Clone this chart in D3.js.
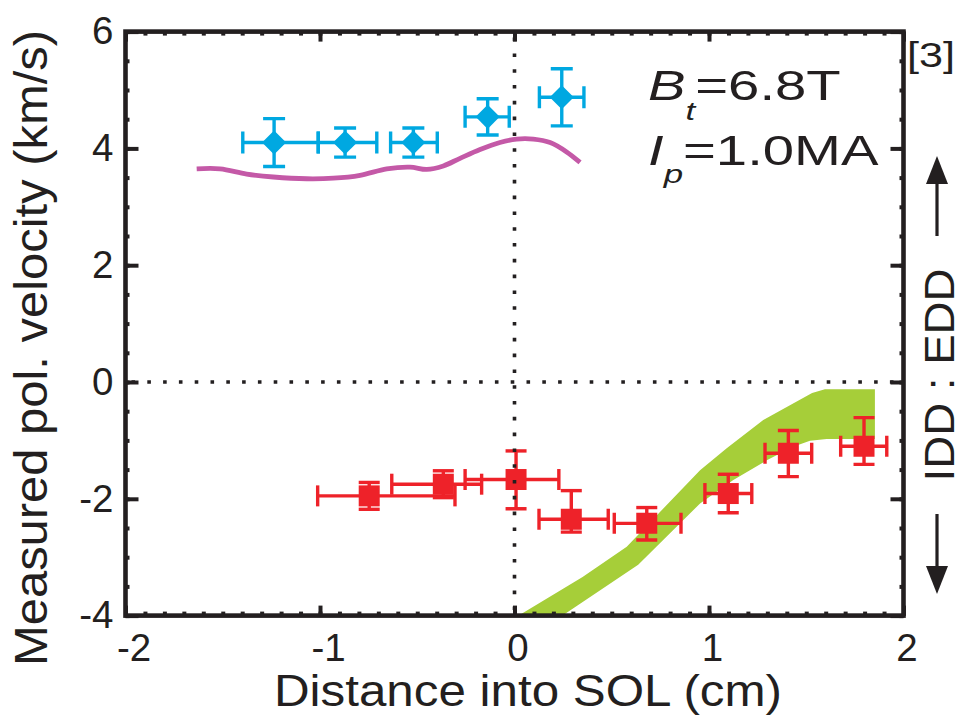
<!DOCTYPE html>
<html>
<head>
<meta charset="utf-8">
<script src="https://cdn.jsdelivr.net/npm/d3@7/dist/d3.min.js"></script>
<style>
  html, body { margin: 0; padding: 0; background: #ffffff; }
  svg { display: block; }
  text { font-family: "Liberation Sans", Arial, Helvetica, sans-serif; fill: #231f20; }
</style>
</head>
<body>
<svg id="chart" width="962" height="715"></svg>
<script>
// ---- axis settings ----
const xDomain = [-2, 2];
const yDomain = [-4, 6];
const xTickValues = [-2, -1, 0, 1, 2];
const yTickValues = [-4, -2, 0, 2, 4, 6];

// ---- ion-drift-side points (blue diamonds) ----
const iddX    = [-1.236, -0.871, -0.520, -0.138, 0.243];
const iddY    = [4.10, 4.10, 4.10, 4.54, 4.875];
const iddXLo  = [0.161, 0.138, 0.117, 0.116, 0.115];
const iddXHi  = [0.227, 0.163, 0.123, 0.111, 0.114];
const iddYErr = [0.41, 0.25, 0.25, 0.31, 0.49];

// ---- electron-drift-side points (red squares) ----
const eddX   = [-0.747, -0.366, 0.008, 0.292, 0.680, 1.099, 1.408, 1.797];
const eddY   = [-1.95, -1.75, -1.67, -2.35, -2.42, -1.91, -1.22, -1.10];
const eddXLo = [0.265, 0.265, 0.262, 0.166, 0.167, 0.120, 0.120, 0.120];
const eddXHi = [0.441, 0.197, 0.220, 0.190, 0.176, 0.121, 0.120, 0.117];
const eddYLo = [0.23, 0.23, 0.50, 0.22, 0.285, 0.33, 0.40, 0.31];
const eddYHi = [0.23, 0.23, 0.49, 0.49, 0.27, 0.33, 0.39, 0.49];

// ---- model curve (magenta) ----
const curveX = [-1.634, -1.514, -1.377, -1.240, -1.068, -0.931, -0.794, -0.657, -0.537, -0.451,
                -0.366, -0.280, -0.177, -0.075, 0.011, 0.097, 0.183, 0.268, 0.337];
const curveY = [3.65, 3.65, 3.56, 3.51, 3.48, 3.49, 3.54, 3.65, 3.68, 3.64,
                3.70, 3.83, 3.98, 4.10, 4.16, 4.16, 4.10, 3.94, 3.76];

// ---- simulated band (green) ----
const bandUpperX = [0.026, 0.350, 0.577, 0.954, 1.091, 1.279, 1.530, 1.596, 1.853];
const bandUpperY = [-3.99, -3.34, -2.82, -1.51, -1.135, -0.65, -0.19, -0.125, -0.125];
const bandLowerX = [0.251, 0.636, 0.954, 1.125, 1.297, 1.433, 1.519, 1.605, 1.853];
const bandLowerY = [-3.99, -3.13, -2.08, -1.68, -1.34, -1.11, -1.005, -0.976, -0.976];

// ---- styling ----
const INK = "#231f20";
const BLUE = "#00a8e1";
const RED = "#ee2229";
const MAGENTA = "#c459a7";
const GREEN = "#a6ce39";

const svg = d3.select("#chart");
const x = d3.scaleLinear().domain(xDomain).range([125.5, 903.5]);
const y = d3.scaleLinear().domain(yDomain).range([615.6, 31.6]);

svg.append("defs").append("clipPath").attr("id", "plotClip")
  .append("rect")
  .attr("x", x(xDomain[0])).attr("y", y(yDomain[1]))
  .attr("width", x(xDomain[1]) - x(xDomain[0]))
  .attr("height", y(yDomain[0]) - y(yDomain[1]));

const plot = svg.append("g").attr("clip-path", "url(#plotClip)");

// green band: upper edge left to right, lower edge back right to left
const bandPts = bandUpperX.map((v, i) => [v, bandUpperY[i]])
  .concat(bandLowerX.map((v, i) => [v, bandLowerY[i]]).reverse());
plot.append("path")
  .attr("d", d3.line().x(d => x(d[0])).y(d => y(d[1]))(bandPts) + "Z")
  .attr("fill", GREEN);

// magenta model curve
plot.append("path")
  .datum(curveX.map((v, i) => [v, curveY[i]]))
  .attr("d", d3.line().x(d => x(d[0])).y(d => y(d[1])).curve(d3.curveCatmullRom.alpha(0.5)))
  .attr("fill", "none")
  .attr("stroke", MAGENTA)
  .attr("stroke-width", 4.8)
  .attr("stroke-linecap", "butt");

// error bars with end caps
function errorBars(g, xs, ys, xlo, xhi, ylo, yhi, color, cap) {
  const eb = g.append("g").attr("stroke", color).attr("stroke-width", 3.4).attr("fill", "none");
  xs.forEach((xv, i) => {
    const cx = x(xv), cy = y(ys[i]);
    const x0 = x(xv - xlo[i]), x1 = x(xv + xhi[i]);
    const y0 = y(ys[i] - ylo[i]), y1 = y(ys[i] + yhi[i]);
    eb.append("line").attr("x1", x0).attr("x2", x1).attr("y1", cy).attr("y2", cy);
    eb.append("line").attr("x1", x0).attr("x2", x0).attr("y1", cy - cap / 2).attr("y2", cy + cap / 2);
    eb.append("line").attr("x1", x1).attr("x2", x1).attr("y1", cy - cap / 2).attr("y2", cy + cap / 2);
    eb.append("line").attr("x1", cx).attr("x2", cx).attr("y1", y0).attr("y2", y1);
    eb.append("line").attr("x1", cx - cap / 2).attr("x2", cx + cap / 2).attr("y1", y0).attr("y2", y0);
    eb.append("line").attr("x1", cx - cap / 2).attr("x2", cx + cap / 2).attr("y1", y1).attr("y2", y1);
  });
}

// blue diamonds
errorBars(plot, iddX, iddY, iddXLo, iddXHi, iddYErr, iddYErr, BLUE, 22);
plot.append("g").selectAll("path")
  .data(iddX.map((v, i) => [v, iddY[i]]))
  .join("path")
  .attr("d", d3.symbol(d3.symbolSquare, 17 * 17))
  .attr("transform", d => `translate(${x(d[0])},${y(d[1])}) rotate(45)`)
  .attr("fill", BLUE);

// red squares
errorBars(plot, eddX, eddY, eddXLo, eddXHi, eddYLo, eddYHi, RED, 21);
plot.append("g").selectAll("path")
  .data(eddX.map((v, i) => [v, eddY[i]]))
  .join("path")
  .attr("d", d3.symbol(d3.symbolSquare, 21 * 21))
  .attr("transform", d => `translate(${x(d[0])},${y(d[1])})`)
  .attr("fill", RED);

// dotted zero lines
const dots = svg.append("g").attr("stroke", INK).attr("stroke-width", 3.6)
  .attr("stroke-dasharray", "3.6 12.2");
dots.append("line")
  .attr("x1", x(0)).attr("x2", x(0)).attr("y1", y(yDomain[1]) + 6).attr("y2", y(yDomain[0]));
dots.append("line")
  .attr("x1", x(xDomain[0]) + 6).attr("x2", x(xDomain[1])).attr("y1", y(0)).attr("y2", y(0));

// axes: inward ticks on all four sides
function styleAxis(g) {
  g.select(".domain").remove();
  g.selectAll(".tick line").attr("stroke", INK).attr("stroke-width", 4);
  g.selectAll("text").attr("fill", INK).attr("font-family", null);
}
const labelSize = 38.5;

const xBottom = svg.append("g").attr("transform", `translate(0,${y(yDomain[0])})`)
  .call(d3.axisBottom(x).tickValues(xTickValues).tickSize(-10).tickPadding(18)
    .tickFormat(d => String(d)))
  .call(styleAxis);
xBottom.attr("font-size", labelSize);
xBottom.selectAll("text").attr("dx", d => d < 0 ? 8 : 3);

svg.append("g").attr("transform", `translate(0,${y(yDomain[0])})`)
  .call(d3.axisBottom(x).tickValues(x.ticks(40)).tickSize(-4).tickFormat(""))
  .call(styleAxis);
svg.append("g").attr("transform", `translate(0,${y(yDomain[1])})`)
  .call(d3.axisTop(x).tickValues(xTickValues).tickSize(-10).tickFormat(""))
  .call(styleAxis);
svg.append("g").attr("transform", `translate(0,${y(yDomain[1])})`)
  .call(d3.axisTop(x).tickValues(x.ticks(40)).tickSize(-4).tickFormat(""))
  .call(styleAxis);

const yLeft = svg.append("g").attr("transform", `translate(${x(xDomain[0])},0)`)
  .call(d3.axisLeft(y).tickValues(yTickValues).tickSize(-13).tickPadding(12)
    .tickFormat(d => String(d)))
  .call(styleAxis);
yLeft.attr("font-size", labelSize);
svg.append("g").attr("transform", `translate(${x(xDomain[0])},0)`)
  .call(d3.axisLeft(y).tickValues(y.ticks(20)).tickSize(-4).tickFormat(""))
  .call(styleAxis);
svg.append("g").attr("transform", `translate(${x(xDomain[1])},0)`)
  .call(d3.axisRight(y).tickValues(yTickValues).tickSize(-13).tickFormat(""))
  .call(styleAxis);
svg.append("g").attr("transform", `translate(${x(xDomain[1])},0)`)
  .call(d3.axisRight(y).tickValues(y.ticks(20)).tickSize(-4).tickFormat(""))
  .call(styleAxis);

// frame
svg.append("rect")
  .attr("x", x(xDomain[0])).attr("y", y(yDomain[1]))
  .attr("width", x(xDomain[1]) - x(xDomain[0]))
  .attr("height", y(yDomain[0]) - y(yDomain[1]))
  .attr("fill", "none").attr("stroke", INK).attr("stroke-width", 4.6);

// axis titles
svg.append("text")
  .attr("x", 528).attr("y", 706)
  .attr("text-anchor", "middle").attr("font-size", 44)
  .attr("textLength", 508).attr("lengthAdjust", "spacingAndGlyphs")
  .text("Distance into SOL (cm)");

svg.append("text")
  .attr("transform", "translate(47,348) rotate(-90)")
  .attr("text-anchor", "middle").attr("font-size", 46)
  .attr("textLength", 636).attr("lengthAdjust", "spacingAndGlyphs")
  .text("Measured pol. velocity (km/s)");

// right-hand direction label with arrows
svg.append("text")
  .attr("transform", "translate(954,375) rotate(-90)")
  .attr("text-anchor", "middle").attr("font-size", 43)
  .attr("textLength", 213).attr("lengthAdjust", "spacingAndGlyphs")
  .text("IDD : EDD");

const arrows = svg.append("g");
const ax = 937;
arrows.append("line").attr("x1", ax).attr("x2", ax).attr("y1", 236).attr("y2", 176)
  .attr("stroke", INK).attr("stroke-width", 3.2);
arrows.append("path").attr("d", `M${ax},156 L${ax - 11},184 L${ax + 11},184 Z`).attr("fill", INK);
arrows.append("line").attr("x1", ax).attr("x2", ax).attr("y1", 514).attr("y2", 574)
  .attr("stroke", INK).attr("stroke-width", 3.2);
arrows.append("path").attr("d", `M${ax},594 L${ax - 11},566 L${ax + 11},566 Z`).attr("fill", INK);

// reference tag
svg.append("text")
  .attr("x", 907).attr("y", 67).attr("font-size", 35)
  .attr("textLength", 48).attr("lengthAdjust", "spacingAndGlyphs")
  .text("[3]");

// discharge parameters
const ann1 = svg.append("text")
  .attr("transform", "translate(648,100) scale(1.34,1)")
  .attr("font-size", 42);
ann1.append("tspan").attr("font-style", "italic").text("B");
ann1.append("tspan").attr("font-style", "italic").attr("font-size", 26).attr("dy", 20).text("t");
ann1.append("tspan").attr("dy", -20).text("=6.8T");

const ann2 = svg.append("text")
  .attr("transform", "translate(648,165) scale(1.34,1)")
  .attr("font-size", 42);
ann2.append("tspan").attr("font-style", "italic").text("I");
ann2.append("tspan").attr("font-style", "italic").attr("font-size", 26).attr("dy", 18).text("p");
ann2.append("tspan").attr("dy", -18).text("=1.0MA");
</script>
</body>
</html>
